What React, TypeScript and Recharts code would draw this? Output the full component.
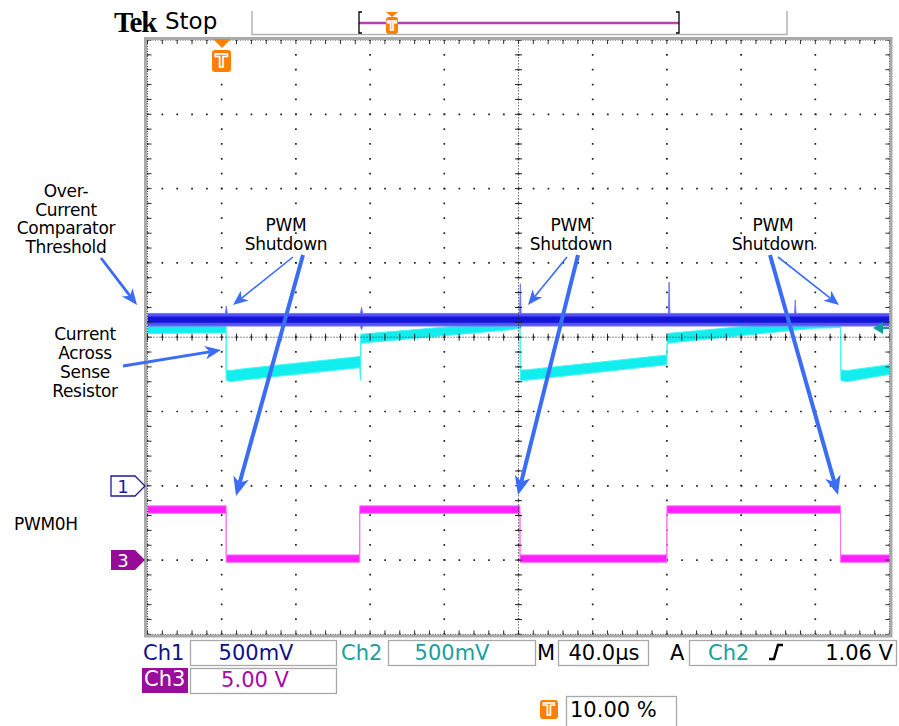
import React from "react";
import { ComposedChart, Area, XAxis, YAxis, CartesianGrid, ReferenceLine } from "recharts";

// scope screen: 10 horizontal divisions (40 µs/div), 8 vertical divisions
type Pt = [number, number, number]; // x (div), band low, band high (div)

const X_DIVS = [0, 1, 2, 3, 4, 5, 6, 7, 8, 9, 10];
const Y_DIVS = [-4, -3, -2, -1, 0, 1, 2, 3, 4];

// Ch1: over-current comparator threshold (noise band + spikes)
const CH1_NOISE: Pt[] = [
  [0, 0.15, 0.32],
  [1.05, 0.15, 0.32],
  [1.062, 0.15, 0.42],
  [1.075, 0.15, 0.32],
  [2.87, 0.15, 0.32],
  [2.885, 0.1, 0.4],
  [2.9, 0.15, 0.32],
  [5.015, 0.15, 0.32],
  [5.025, 0.12, 0.72],
  [5.035, 0.15, 0.32],
  [7.02, 0.15, 0.32],
  [7.03, 0.15, 0.74],
  [7.04, 0.15, 0.32],
  [8.72, 0.15, 0.32],
  [8.73, 0.15, 0.5],
  [8.74, 0.15, 0.32],
  [10, 0.15, 0.32],
];
const CH1_CORE: Pt[] = [
  [0, 0.195, 0.28],
  [10, 0.195, 0.28],
];

// Ch2: current across sense resistor
const CH2_BAND: Pt[] = [
  [0, 0.05, 0.2],
  [1.06, 0.06, 0.21],
  [1.06, -0.58, -0.44],
  [1.12, -0.6, -0.45],
  [1.25, -0.58, -0.43],
  [2.86, -0.41, -0.26],
  [2.87, -0.58, -0.27],
  [2.875, -0.08, 0.04],
  [4.88, 0.1, 0.21],
  [5.02, 0.12, 0.23],
  [5.025, -0.58, -0.44],
  [5.1, -0.58, -0.44],
  [7.0, -0.37, -0.24],
  [7.005, -0.08, 0.05],
  [8.97, 0.12, 0.23],
  [9.34, 0.13, 0.24],
  [9.345, -0.58, -0.44],
  [9.42, -0.6, -0.45],
  [10, -0.5, -0.37],
];

// Ch3: PWM0H
const CH3_BAND: Pt[] = [
  [0, -2.37, -2.27],
  [1.06, -2.37, -2.27],
  [1.06, -3.03, -2.93],
  [2.86, -3.03, -2.93],
  [2.86, -2.37, -2.27],
  [5.02, -2.37, -2.27],
  [5.02, -3.03, -2.93],
  [7.0, -3.03, -2.93],
  [7.0, -2.37, -2.27],
  [9.34, -2.37, -2.27],
  [9.34, -3.03, -2.93],
  [10, -3.03, -2.93],
];

const MINOR_X = Array.from({ length: 51 }, (_, i) => Math.round(i * 2) / 10);
const MINOR_Y = Array.from({ length: 41 }, (_, i) => Math.round(-40 + i * 2) / 10);

const rows = (pts: Pt[]) => pts.map(([x, lo, hi]) => ({ x, band: [lo, hi] }));

const ARROW = "#3a6cf6";
const SANS = "'DejaVu Sans', sans-serif";

function Arrow({ x1, y1, x2, y2, w, head }: { x1: number; y1: number; x2: number; y2: number; w: number; head: number }) {
  const len = Math.hypot(x2 - x1, y2 - y1);
  const ux = (x2 - x1) / len;
  const uy = (y2 - y1) / len;
  const px = -uy;
  const py = ux;
  const hw = head * 0.42;
  const bx = x2 - ux * head;
  const by = y2 - uy * head;
  const nx = x2 - ux * head * 0.72;
  const ny = y2 - uy * head * 0.72;
  const pts = `${x2},${y2} ${bx + px * hw},${by + py * hw} ${nx},${ny} ${bx - px * hw},${by - py * hw}`;
  return (
    <g>
      <line x1={x1} y1={y1} x2={nx} y2={ny} stroke={ARROW} strokeWidth={w} />
      <polygon points={pts} fill={ARROW} />
    </g>
  );
}

function TBadge({ x, y, w, h, size }: { x: number; y: number; w: number; h: number; size: number }) {
  return (
    <g>
      <rect x={x} y={y} width={w} height={h} rx={3} fill="#ff8000" />
      <text
        x={x + w / 2}
        y={y + h / 2 + size * 0.36}
        textAnchor="middle"
        fontFamily={SANS}
        fontWeight="bold"
        fontSize={size}
        fill="#ff8000"
        stroke="#fff"
        strokeWidth={1.6}
      >
        T
      </text>
    </g>
  );
}

function Lines({ x, y, lines, step, anchor = "middle" }: { x: number; y: number; lines: string[]; step: number; anchor?: string }) {
  return (
    <text fontFamily={SANS} fontSize={17} fill="#000" textAnchor={anchor as any} letterSpacing={-0.3}>
      {lines.map((l, i) => (
        <tspan key={i} x={x} y={y + i * step}>
          {l}
        </tspan>
      ))}
    </text>
  );
}

export default function App() {
  const box = { fill: "none", stroke: "#a8a8a8", strokeWidth: 1.3 };
  const st = { fontFamily: SANS, fontSize: 21 };
  return (
    <div style={{ position: "absolute", left: 0, top: 0, width: 899, height: 726, background: "#fff", overflow: "hidden" }}>
      <ComposedChart width={899} height={726} margin={{ top: 40, left: 147.5, right: 9.5, bottom: 91.6 }}>
        <XAxis type="number" dataKey="x" domain={[0, 10]} ticks={X_DIVS} hide allowDataOverflow />
        <YAxis type="number" domain={[-4, 4]} ticks={Y_DIVS} hide allowDataOverflow />
        <CartesianGrid stroke="#222" strokeWidth={1.7} strokeDasharray="1.7 13.15" strokeDashoffset={0.85} />
        <ReferenceLine x={5} stroke="#222" strokeDasharray="1 2" />
        <ReferenceLine y={0} stroke="#222" strokeDasharray="1 2" />
        <ReferenceLine y={4} stroke="#333" strokeDasharray="1 1.5" />
        <ReferenceLine y={-4} stroke="#333" strokeDasharray="1 1.5" />
        <ReferenceLine x={0} stroke="#333" strokeDasharray="1 1.5" />
        <ReferenceLine x={10} stroke="#333" strokeDasharray="1 1.5" />
        {MINOR_X.map((t) => (
          <ReferenceLine key={"cx" + t} segment={[{ x: t, y: -0.047 }, { x: t, y: 0.047 }]} stroke="#222" />
        ))}
        {MINOR_Y.map((t) => (
          <ReferenceLine key={"cy" + t} segment={[{ x: 4.953, y: t }, { x: 5.047, y: t }]} stroke="#222" />
        ))}
        {MINOR_X.map((t) => (
          <ReferenceLine key={"tx" + t} segment={[{ x: t, y: 4 }, { x: t, y: 3.945 }]} stroke="#333" />
        ))}
        {MINOR_X.map((t) => (
          <ReferenceLine key={"bx" + t} segment={[{ x: t, y: -4 }, { x: t, y: -3.945 }]} stroke="#333" />
        ))}
        {MINOR_Y.map((t) => (
          <ReferenceLine key={"ly" + t} segment={[{ x: 0, y: t }, { x: 0.055, y: t }]} stroke="#333" />
        ))}
        {MINOR_Y.map((t) => (
          <ReferenceLine key={"ry" + t} segment={[{ x: 10, y: t }, { x: 9.945, y: t }]} stroke="#333" />
        ))}
        <Area
          data={rows(CH2_BAND)}
          dataKey="band"
          type="linear"
          stroke="#40f4f4"
          strokeWidth={1}
          fill="#12eeee"
          fillOpacity={1}
          dot={false}
          activeDot={false}
          isAnimationActive={false}
        />
        <Area
          data={rows(CH1_NOISE)}
          dataKey="band"
          type="linear"
          stroke="#7878f8"
          strokeWidth={1}
          fill="#5252f2"
          fillOpacity={1}
          dot={false}
          activeDot={false}
          isAnimationActive={false}
        />
        <Area
          data={rows(CH1_CORE)}
          dataKey="band"
          type="linear"
          stroke="none"
          fill="#1414d8"
          fillOpacity={1}
          dot={false}
          activeDot={false}
          isAnimationActive={false}
        />
        <Area
          data={rows(CH3_BAND)}
          dataKey="band"
          type="linear"
          stroke="#ff70ff"
          strokeWidth={1}
          fill="#ff20ff"
          fillOpacity={1}
          dot={false}
          activeDot={false}
          isAnimationActive={false}
        />
      </ComposedChart>

      <svg width={899} height={726} style={{ position: "absolute", left: 0, top: 0, pointerEvents: "none" }}>
        {/* header */}
        <text x={114} y={32} fontFamily="'Liberation Serif', serif" fontWeight="bold" fontSize={29} letterSpacing={-1.2}>
          Tek
        </text>
        <text x={165} y={29} fontFamily={SANS} fontSize={23}>
          Stop
        </text>
        <path d="M252 11 V34.5 H787 V11" fill="none" stroke="#b4b4b4" strokeWidth={1.5} />
        <line x1={359} y1={23} x2={679} y2={23} stroke="#b044b0" strokeWidth={2.5} />
        <path d="M362 12 H359 V33 H362" fill="none" stroke="#000" strokeWidth={1.3} />
        <path d="M676 12 H679 V33 H676" fill="none" stroke="#000" strokeWidth={1.3} />
        <polygon points="386,12 398,12 392,17" fill="#ff8000" />
        <TBadge x={386} y={17} w={12} h={17} size={13} />

        {/* screen frame */}
        <rect x={145.5} y={38.5} width={745.5} height={597.5} fill="none" stroke="#a9a9a9" strokeWidth={3} />
        <polygon points="213,39 231,39 222,48" fill="#ff8000" />
        <TBadge x={212} y={50} w={19} h={22} size={18} />

        {/* channel markers */}
        <path d="M111 476 H135 L145 486 L135 496 H111 Z" fill="#fff" stroke="#1a1aa0" strokeWidth={1.3} />
        <text x={123} y={493} textAnchor="middle" fontFamily={SANS} fontSize={18} fill="#1a1aa0">
          1
        </text>
        <path d="M111 550 H135 L145 560 L135 570 H111 Z" fill="#960c96" />
        <text x={123} y={567} textAnchor="middle" fontFamily={SANS} fontSize={18} fill="#fff">
          3
        </text>
        <polygon points="873,328 883,322 883,334" fill="#109c9c" />
        <line x1={882} y1={328} x2={889} y2={328} stroke="#109c9c" strokeWidth={2} />

        {/* annotations */}
        <Lines x={66} y={197} step={18.6} lines={["Over-", "Current", "Comparator", "Threshold"]} />
        <Lines x={85} y={340} step={19} lines={["Current", "Across", "Sense", "Resistor"]} />
        <Lines x={286} y={231} step={18.7} lines={["PWM", "Shutdown"]} />
        <Lines x={571} y={231} step={18.7} lines={["PWM", "Shutdown"]} />
        <Lines x={773} y={231} step={18.7} lines={["PWM", "Shutdown"]} />
        <Lines x={14} y={530} step={18} lines={["PWM0H"]} anchor="start" />

        <Arrow x1={101} y1={258} x2={137} y2={305} w={2.8} head={16} />
        <Arrow x1={123} y1={366} x2={221} y2={350} w={2.8} head={16} />
        <Arrow x1={293} y1={257} x2={233} y2={305} w={1.6} head={15} />
        <Arrow x1={303} y1={255} x2={236} y2={496} w={4} head={19} />
        <Arrow x1={567} y1={257} x2={528} y2={305} w={1.6} head={15} />
        <Arrow x1={578} y1={255} x2={518} y2={495} w={4} head={19} />
        <Arrow x1={778} y1={257} x2={839} y2={305} w={1.6} head={15} />
        <Arrow x1={770} y1={255} x2={838} y2={495} w={4} head={19} />

        {/* status bar */}
        <text x={143} y={660} fill="#10108c" {...st}>Ch1</text>
        <rect x={190.5} y={640.5} width={146} height={25} {...box} />
        <text x={256} y={660} textAnchor="middle" fill="#10108c" {...st}>500mV</text>
        <text x={341} y={660} fill="#1aa0a0" {...st}>Ch2</text>
        <rect x={388.5} y={640.5} width={147} height={25} {...box} />
        <text x={452} y={660} textAnchor="middle" fill="#1aa0a0" {...st}>500mV</text>
        <text x={537} y={660} fill="#000" {...st}>M</text>
        <rect x={558.5} y={640.5} width={90} height={25} {...box} />
        <text x={604} y={660} textAnchor="middle" fill="#000" {...st}>40.0µs</text>
        <text x={670} y={660} fill="#000" {...st}>A</text>
        <rect x={689.5} y={640.5} width={207} height={25} {...box} />
        <text x={708} y={660} fill="#1aa0a0" {...st}>Ch2</text>
        <path d="M769 659 H774 L778 645 H783" fill="none" stroke="#000" strokeWidth={2.5} />
        <text x={893} y={660} textAnchor="end" fill="#000" {...st}>1.06 V</text>
        <rect x={142} y={668} width={46} height={25} fill="#9a0c9a" />
        <text x={144} y={686} fill="#fff" {...st}>Ch3</text>
        <rect x={190.5} y={668.5} width={146} height={25} {...box} />
        <text x={255} y={687} textAnchor="middle" fill="#aa08aa" {...st}>5.00 V</text>
        <TBadge x={540} y={700} w={18} h={19} size={16} />
        <rect x={566.5} y={696.5} width={110} height={35} {...box} />
        <text x={570} y={717} fill="#000" {...st}>10.00 %</text>
      </svg>
    </div>
  );
}
